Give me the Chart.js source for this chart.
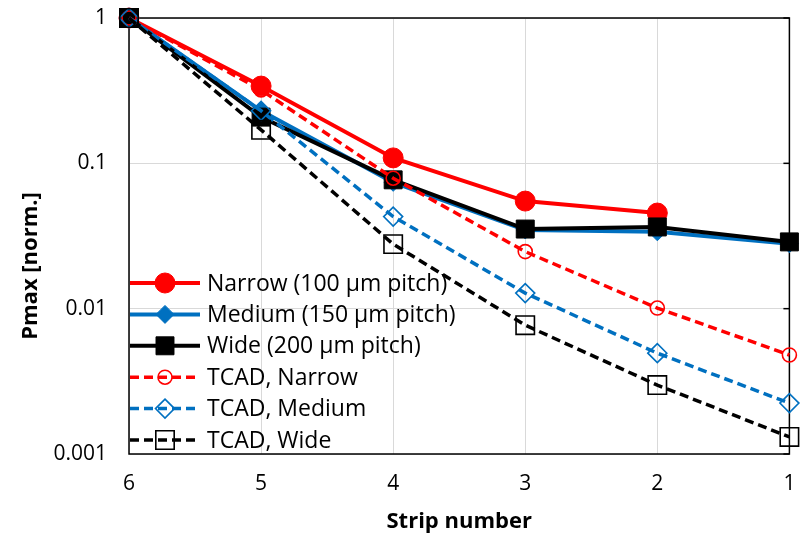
<!DOCTYPE html>
<html>
<head>
<meta charset="utf-8">
<script src="https://cdn.jsdelivr.net/npm/chart.js@4/dist/chart.umd.min.js"></script>
<style>
  html, body { margin: 0; padding: 0; background: #fff; }
  #wrap { width: 804px; height: 537px; }
</style>
</head>
<body>
<div id="wrap"><canvas id="myChart"></canvas></div>
<script>
// strip numbers along the x axis
const stripLabels = ['6', '5', '4', '3', '2', '1']
// measured (solid) and TCAD (dashed) Pmax values, normalised
const narrowVals = [1, 0.34, 0.109, 0.055, 0.0455, null]
const mediumVals = [1, 0.23, 0.074, 0.0348, 0.0338, 0.028]
const wideVals = [1, 0.208, 0.077, 0.0353, 0.0365, 0.0288]
const tcadNarrowVals = [1, 0.32, 0.079, 0.0247, 0.0101, 0.0048]
const tcadMediumVals = [1, 0.23, 0.043, 0.0128, 0.00494, 0.00224]
const tcadWideVals = [1, 0.17, 0.0278, 0.0077, 0.00298, 0.00131]
const yTicks = [0.001, 0.01, 0.1, 1]
const yTickText = ['0.001', '0.01', '0.1', '1']
const xTitle = 'Strip number'
const yTitle = 'Pmax [norm.]'

const fontFam = '"Open Sans", Lato, sans-serif'
const red = '#ff0000'
const blue = '#0070c0'
const black = '#000000'

function series(label, data, color, style, radius, filled, dashed, n) {
  return {
    label: label,
    data: data,
    borderColor: color,
    backgroundColor: filled ? color : 'rgba(0,0,0,0)',
    borderWidth: dashed ? 3.5 : 4,
    borderDash: dashed ? [9, 5] : [],
    pointStyle: style,
    pointRadius: radius,
    pointHoverRadius: radius,
    pointBorderWidth: filled ? 1 : 1.6,
    pointBorderColor: color,
    pointBackgroundColor: filled ? color : 'rgba(0,0,0,0)',
    tension: 0,
    spanGaps: false,
    clip: false,
    order: 6 - n
  }
}

const datasets = [
  series('Narrow (100 µm pitch)', narrowVals, red, 'circle', 10, true, false, 0),
  series('Medium (150 µm pitch)', mediumVals, blue, 'rectRot', 9, true, false, 1),
  series('Wide (200 µm pitch)', wideVals, black, 'rect', 12.7, true, false, 2),
  series('TCAD, Narrow', tcadNarrowVals, red, 'circle', 7, false, true, 3),
  series('TCAD, Medium', tcadMediumVals, blue, 'rectRot', 9.5, false, true, 4),
  series('TCAD, Wide', tcadWideVals, black, 'rect', 13, false, true, 5)
]

function marker(ctx, style, x, y, r, ds) {
  ctx.save()
  ctx.setLineDash([])
  ctx.beginPath()
  if (style === 'circle') {
    ctx.arc(x, y, r, 0, Math.PI * 2)
  } else if (style === 'rectRot') {
    ctx.moveTo(x, y - r); ctx.lineTo(x + r, y); ctx.lineTo(x, y + r); ctx.lineTo(x - r, y)
    ctx.closePath()
  } else {
    const s = r * Math.SQRT1_2
    ctx.rect(x - s, y - s, 2 * s, 2 * s)
  }
  ctx.fillStyle = ds.pointBackgroundColor
  ctx.fill()
  ctx.lineWidth = ds.pointBorderWidth
  ctx.strokeStyle = ds.pointBorderColor
  ctx.stroke()
  ctx.restore()
}

const frame = {
  id: 'frame',
  beforeDatasetsDraw(chart) {
    const a = chart.chartArea
    const ctx = chart.ctx
    const ys = chart.scales.y
    ctx.save()
    ctx.strokeStyle = '#000'
    ctx.lineWidth = 1.5
    ctx.strokeRect(a.left, a.top, a.right - a.left, a.bottom - a.top)
    yTicks.forEach(v => {
      const py = ys.getPixelForValue(v)
      ctx.beginPath()
      ctx.moveTo(a.right - 6, py)
      ctx.lineTo(a.right, py)
      ctx.stroke()
    })
    // axis titles
    ctx.fillStyle = '#000'
    ctx.font = 'bold 22px ' + fontFam
    ctx.textAlign = 'center'
    ctx.textBaseline = 'middle'
    ctx.fillText(xTitle, (a.left + a.right) / 2, 522)
    ctx.translate(31, 266)
    ctx.rotate(-Math.PI / 2)
    ctx.fillText(yTitle, 0, 0)
    ctx.restore()
  }
}

const boxLegend = {
  id: 'boxLegend',
  afterDatasetsDraw(chart) {
    const ctx = chart.ctx
    const x0 = 130, x1 = 200, tx = 207
    chart.data.datasets.forEach((ds, i) => {
      const y = 283 + i * 31.4
      ctx.save()
      ctx.strokeStyle = ds.borderColor
      ctx.lineWidth = ds.borderWidth
      ctx.setLineDash(ds.borderDash)
      ctx.beginPath()
      ctx.moveTo(x0, y)
      ctx.lineTo(x1, y)
      ctx.stroke()
      ctx.restore()
      marker(ctx, ds.pointStyle, (x0 + x1) / 2, y, ds.pointRadius, ds)
      ctx.save()
      ctx.fillStyle = '#000'
      ctx.font = '23px ' + fontFam
      ctx.textBaseline = 'middle'
      ctx.fillText(ds.label, tx, y + 1)
      ctx.restore()
    })
  }
}

new Chart(document.getElementById('myChart'), {
  type: 'line',
  data: { labels: stripLabels, datasets: datasets },
  options: {
    responsive: true,
    maintainAspectRatio: false,
    animation: false,
    layout: { padding: { left: 0, top: 18, right: 12, bottom: 0 } },
    plugins: { legend: { display: false }, tooltip: { enabled: false } },
    scales: {
      x: {
        type: 'category',
        offset: false,
        grid: { color: '#d9d9d9', lineWidth: 1, drawTicks: true, tickLength: 17, tickColor: 'rgba(0,0,0,0)' },
        border: { display: false },
        ticks: { color: '#000', font: { family: fontFam, size: 21 }, padding: 0, maxRotation: 0 },
        afterFit(scale) { scale.height = 83 }
      },
      y: {
        type: 'logarithmic',
        min: 0.001,
        max: 1,
        grid: { color: '#d9d9d9', lineWidth: 1, drawTicks: true, tickLength: 22, tickColor: 'rgba(0,0,0,0)' },
        border: { display: false },
        afterBuildTicks(scale) { scale.ticks = yTicks.map(v => ({ value: v })) },
        ticks: {
          color: '#000',
          font: { family: fontFam, size: 21 },
          padding: 0,
          callback: (v) => yTickText[yTicks.indexOf(v)]
        },
        afterFit(scale) { scale.width = 129 }
      }
    }
  },
  plugins: [frame, boxLegend]
})
</script>
</body>
</html>
